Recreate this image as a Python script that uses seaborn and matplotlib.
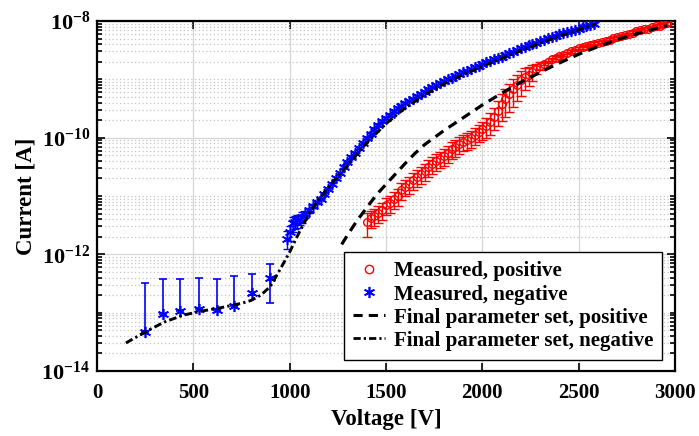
import numpy as np
import matplotlib
matplotlib.use('Agg')
import matplotlib.pyplot as plt
from matplotlib.lines import Line2D
from matplotlib.ticker import LogLocator, NullFormatter, NullLocator
import seaborn as sns

# measured, negative polarity: low-voltage points with (lower, upper) bounds, log10(I)
neg_low_v = [249, 341, 431, 530, 621, 713, 806, 898]
neg_low_log = [-13.33, -13.03, -12.97, -12.93, -12.96, -12.88, -12.66, -12.40]
neg_low_lo = [-13.33, -13.03, -12.97, -12.93, -12.96, -12.88, -12.70, -12.84]
neg_low_hi = [-12.50, -12.42, -12.43, -12.40, -12.43, -12.37, -12.33, -12.17]

# measured, negative polarity: dense sweep, log10(I) and relative error
neg_v = [984, 1000, 1015, 1028, 1040, 1053, 1065, 1080, 1100, 1120, 1140, 1160,
         1180, 1200, 1220, 1240, 1260, 1280, 1300, 1320, 1340, 1360, 1380, 1400,
         1420, 1440, 1460, 1480, 1500, 1520, 1540, 1560, 1580, 1600, 1620, 1640,
         1660, 1680, 1700, 1720, 1740, 1760, 1780, 1800, 1820, 1840, 1860, 1880,
         1900, 1920, 1940, 1960, 1980, 2000, 2020, 2040, 2060, 2080, 2100, 2120,
         2140, 2160, 2180, 2200, 2220, 2240, 2260, 2280, 2300, 2320, 2340, 2360,
         2380, 2400, 2420, 2440, 2460, 2480, 2500, 2520, 2540, 2560, 2580]
neg_log = [-11.73, -11.62, -11.47, -11.44, -11.42, -11.40, -11.36, -11.31, -11.24, -11.17,
           -11.11, -11.05, -10.96, -10.88, -10.79, -10.70, -10.60, -10.51, -10.42, -10.34,
           -10.26, -10.17, -10.09, -10.01, -9.93, -9.86, -9.79, -9.72, -9.67, -9.61,
           -9.55, -9.50, -9.45, -9.41, -9.37, -9.33, -9.29, -9.25, -9.21, -9.17,
           -9.13, -9.09, -9.06, -9.03, -9.00, -8.97, -8.94, -8.91, -8.88, -8.85,
           -8.82, -8.79, -8.77, -8.74, -8.71, -8.69, -8.66, -8.63, -8.61, -8.58,
           -8.55, -8.53, -8.50, -8.47, -8.45, -8.42, -8.40, -8.37, -8.35, -8.32,
           -8.30, -8.27, -8.25, -8.23, -8.21, -8.19, -8.17, -8.15, -8.13, -8.11,
           -8.09, -8.07, -8.05]
neg_rel_err = [0.35, 0.30, 0.30, 0.25, 0.25, 0.20, 0.20, 0.15, 0.10, 0.08] + [0.04] * 73

# measured, positive polarity, log10(I) and relative error
pos_v = [1400, 1420, 1440, 1460, 1480, 1500, 1520, 1540, 1560, 1580, 1600, 1620,
         1640, 1660, 1680, 1700, 1720, 1740, 1760, 1780, 1800, 1820, 1840, 1860,
         1880, 1900, 1920, 1940, 1960, 1980, 2000, 2020, 2040, 2060, 2080, 2100,
         2120, 2140, 2160, 2180, 2200, 2220, 2240, 2260, 2280, 2300, 2320, 2340,
         2360, 2380, 2400, 2420, 2440, 2460, 2480, 2500, 2520, 2540, 2560, 2580,
         2600, 2620, 2640, 2660, 2680, 2700, 2720, 2740, 2760, 2780, 2800, 2820,
         2840, 2860, 2880, 2900, 2920, 2940, 2960]
pos_log = [-11.45, -11.38, -11.35, -11.30, -11.24, -11.16, -11.12, -11.05, -11.00, -10.90,
           -10.84, -10.79, -10.73, -10.68, -10.62, -10.57, -10.50, -10.45, -10.40, -10.36,
           -10.31, -10.26, -10.20, -10.16, -10.11, -10.07, -10.04, -10.01, -9.96, -9.91,
           -9.86, -9.80, -9.73, -9.64, -9.54, -9.43, -9.34, -9.26, -9.17, -9.09,
           -9.02, -8.96, -8.92, -8.87, -8.82, -8.77, -8.73, -8.70, -8.66, -8.63,
           -8.60, -8.58, -8.55, -8.52, -8.50, -8.47, -8.45, -8.43, -8.41, -8.39,
           -8.37, -8.36, -8.34, -8.32, -8.30, -8.28, -8.26, -8.24, -8.22, -8.20,
           -8.18, -8.16, -8.14, -8.13, -8.11, -8.09, -8.08, -8.06, -8.04]
pos_rel_err = ([0.45] + [0.32] * 29 + [0.35, 0.38, 0.40, 0.42, 0.45, 0.48, 0.50, 0.50,
               0.50, 0.48, 0.45, 0.40, 0.35, 0.30, 0.20, 0.15] + [0.05] * 33)

# final parameter set (model), log10(I)
neg_fit_v = [150, 250, 350, 450, 550, 650, 750, 800, 850, 900, 950, 1000, 1050, 1100,
             1150, 1200, 1300, 1400, 1500, 1600, 1700, 1800, 1900, 2000, 2100, 2200,
             2300, 2400, 2500, 2590]
neg_fit_log = [-13.52, -13.33, -13.16, -13.04, -12.97, -12.91, -12.84, -12.79, -12.70,
               -12.55, -12.26, -11.96, -11.62, -11.31, -11.06, -10.86, -10.47, -10.09,
               -9.76, -9.49, -9.27, -9.08, -8.92, -8.78, -8.64, -8.51, -8.38, -8.26,
               -8.15, -8.05]
pos_fit_v = [1270, 1300, 1350, 1400, 1450, 1500, 1550, 1600, 1650, 1700, 1750, 1800,
             1850, 1900, 1950, 2000, 2100, 2200, 2300, 2400, 2500, 2600, 2700, 2800,
             2900, 2960]
pos_fit_log = [-11.83, -11.67, -11.42, -11.20, -10.98, -10.80, -10.62, -10.44, -10.27,
               -10.12, -10.00, -9.88, -9.77, -9.66, -9.55, -9.44, -9.24, -9.05, -8.88,
               -8.72, -8.57, -8.44, -8.32, -8.22, -8.13, -8.08]

x_ticks = [0, 500, 1000, 1500, 2000, 2500, 3000]
y_ticks = [1e-14, 1e-12, 1e-10, 1e-8]
y_tick_labels = ['$10^{-14}$', '$10^{-12}$', '$10^{-10}$', '$10^{-8}$']
legend_labels = ['Measured, positive', 'Measured, negative',
                 'Final parameter set, positive', 'Final parameter set, negative']

sns.set_style('ticks')
plt.rcParams['font.family'] = ['Liberation Serif', 'DejaVu Serif']
plt.rcParams['font.weight'] = 'bold'
plt.rcParams['text.color'] = 'black'
plt.rcParams['axes.labelcolor'] = 'black'
plt.rcParams['xtick.color'] = 'black'
plt.rcParams['ytick.color'] = 'black'
plt.rcParams['mathtext.fontset'] = 'custom'
plt.rcParams['mathtext.rm'] = 'Liberation Serif:bold'
plt.rcParams['mathtext.it'] = 'Liberation Serif:italic:bold'
plt.rcParams['mathtext.bf'] = 'Liberation Serif:bold'
plt.rcParams['mathtext.default'] = 'rm'

fig = plt.figure(figsize=(6.99, 4.36), dpi=100)
ax = fig.add_axes([0.1388, 0.1491, 0.8269, 0.8028])
ax.set_yscale('log')
ax.set_xlim(0, 3000)
ax.set_ylim(1e-14, 1e-8)

asterisk = (6, 2, 0)

# measured, positive
pos_i = 10 ** np.array(pos_log)
ax.errorbar(pos_v, pos_i, yerr=pos_i * np.array(pos_rel_err), fmt='o', mfc='none',
            mec='red', ecolor='red', ms=5.5, mew=1, elinewidth=1, capsize=3.5,
            capthick=1, zorder=3)

# measured, negative
lo_i = 10 ** np.array(neg_low_log)
ax.errorbar(neg_low_v, lo_i,
            yerr=[lo_i - 10 ** np.array(neg_low_lo), 10 ** np.array(neg_low_hi) - lo_i],
            fmt='none', ecolor='blue', elinewidth=1.2, capsize=3, capthick=1.2, zorder=3)
ax.plot(neg_low_v, lo_i, ls='none', marker=asterisk, color='blue', ms=8, mew=1.2, zorder=3)
neg_i = 10 ** np.array(neg_log)
ax.errorbar(neg_v, neg_i, yerr=neg_i * np.array(neg_rel_err), fmt='none', ecolor='blue',
            elinewidth=1, capsize=3, capthick=1, zorder=3)
ax.plot(neg_v, neg_i, ls='none', marker=asterisk, color='blue', ms=8, mew=1.1, zorder=3)

# model curves
sns.lineplot(x=pos_fit_v, y=10 ** np.array(pos_fit_log), ax=ax, color='black',
             lw=2.3, linestyle=(0, (3, 2)), zorder=5)
sns.lineplot(x=neg_fit_v, y=10 ** np.array(neg_fit_log), ax=ax, color='black',
             lw=2.1, linestyle=(0, (2.6, 1.1, 0.8, 1.1)), zorder=5)

# axes styling
ax.set_xticks(x_ticks)
ax.set_xticklabels([str(t) for t in x_ticks], fontsize=15, fontweight='bold')
ax.xaxis.set_minor_locator(NullLocator())
ax.set_yticks(y_ticks)
ax.set_yticklabels(y_tick_labels, fontsize=16)
ax.yaxis.set_minor_locator(LogLocator(base=10, subs=np.arange(1, 10), numticks=30))
ax.yaxis.set_minor_formatter(NullFormatter())

ax.grid(which='major', color='#d6d6d6', lw=0.9, ls='-')
ax.grid(which='minor', axis='y', color='#c4c4c4', lw=0.9, ls=(0, (1, 2)))
ax.set_axisbelow(True)
ax.tick_params(which='both', direction='in', top=True, right=True, color='black',
               width=1.2)
ax.tick_params(which='major', length=6)
ax.tick_params(which='minor', length=3.5)
ax.tick_params(axis='x', pad=9)
ax.tick_params(axis='y', pad=5)
for s in ax.spines.values():
    s.set_linewidth(1.6)
    s.set_color('black')

ax.set_xlabel('Voltage [V]', fontsize=16.5, fontweight='bold')
ax.set_ylabel('Current [A]', fontsize=16.5, fontweight='bold')
ax.xaxis.set_label_coords(0.5, -0.108)
ax.yaxis.set_label_coords(-0.105, 0.5)

handles = [
    Line2D([], [], ls='none', marker='o', mfc='none', mec='red', ms=6, mew=1),
    Line2D([], [], ls='none', marker=asterisk, color='blue', ms=8, mew=1.2),
    Line2D([], [], color='black', lw=2.2, ls=(0, (3, 2))),
    Line2D([], [], color='black', lw=2.0, ls=(0, (2.6, 1.1, 0.8, 1.1))),
]
leg = ax.legend(handles, legend_labels, loc='lower right', bbox_to_anchor=(0.978, 0.031),
                prop={'family': 'Liberation Serif', 'weight': 'bold', 'size': 15},
                frameon=True, fancybox=False, edgecolor='black', framealpha=1,
                borderaxespad=0, handlelength=1.55, handletextpad=0.4,
                labelspacing=0.15, borderpad=0.45)
leg.get_frame().set_linewidth(1.0)
leg.set_zorder(10)

fig.savefig('out.png', dpi=100)
